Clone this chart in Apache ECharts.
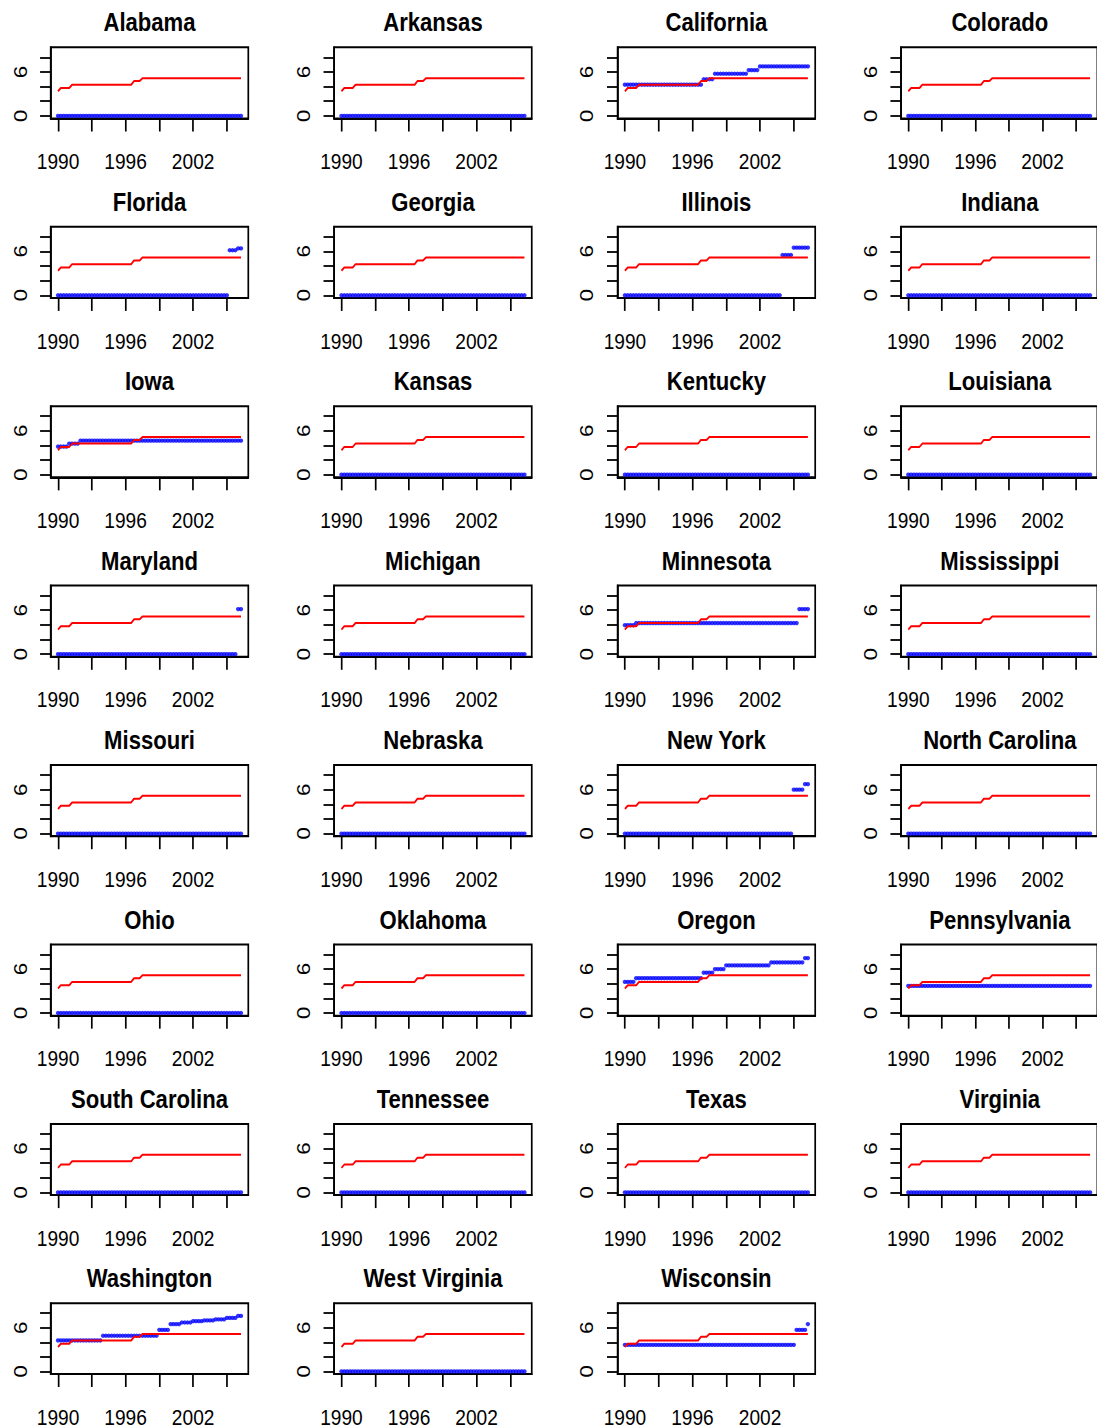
<!DOCTYPE html>
<html>
<head>
<meta charset="utf-8">
<script src="https://cdn.jsdelivr.net/npm/echarts@6/dist/echarts.min.js"></script>
<style>
  html, body { margin: 0; padding: 0; background: #ffffff; overflow: hidden; }
  /* The chart is laid out on a wider canvas and squeezed horizontally,
     which gives the narrow lettering of the panel titles and tick labels. */
  #chart { width: 1291px; height: 1428px; transform: scaleX(0.85); transform-origin: 0 0; }
</style>
</head>
<body>
<div id="chart"></div>
<script>
// Quarterly time index, 1990 Q1 through 2006 Q2
const quarters = [
  1990.00, 1990.25, 1990.50, 1990.75,
  1991.00, 1991.25, 1991.50, 1991.75,
  1992.00, 1992.25, 1992.50, 1992.75,
  1993.00, 1993.25, 1993.50, 1993.75,
  1994.00, 1994.25, 1994.50, 1994.75,
  1995.00, 1995.25, 1995.50, 1995.75,
  1996.00, 1996.25, 1996.50, 1996.75,
  1997.00, 1997.25, 1997.50, 1997.75,
  1998.00, 1998.25, 1998.50, 1998.75,
  1999.00, 1999.25, 1999.50, 1999.75,
  2000.00, 2000.25, 2000.50, 2000.75,
  2001.00, 2001.25, 2001.50, 2001.75,
  2002.00, 2002.25, 2002.50, 2002.75,
  2003.00, 2003.25, 2003.50, 2003.75,
  2004.00, 2004.25, 2004.50, 2004.75,
  2005.00, 2005.25, 2005.50, 2005.75,
  2006.00, 2006.25
];

// Federal minimum wage (red line), one value per quarter
const federalMinWage = [
  3.35, 3.80, 3.80, 3.80,
  3.80, 4.25, 4.25, 4.25,
  4.25, 4.25, 4.25, 4.25,
  4.25, 4.25, 4.25, 4.25,
  4.25, 4.25, 4.25, 4.25,
  4.25, 4.25, 4.25, 4.25,
  4.25, 4.25, 4.25, 4.75,
  4.75, 4.75, 5.15, 5.15,
  5.15, 5.15, 5.15, 5.15,
  5.15, 5.15, 5.15, 5.15,
  5.15, 5.15, 5.15, 5.15,
  5.15, 5.15, 5.15, 5.15,
  5.15, 5.15, 5.15, 5.15,
  5.15, 5.15, 5.15, 5.15,
  5.15, 5.15, 5.15, 5.15,
  5.15, 5.15, 5.15, 5.15,
  5.15, 5.15
];

// State minimum wage (blue points); 0 where the state sets none of its own
const noStateMinimum = [
  0, 0, 0, 0,  0, 0, 0, 0,  0, 0, 0, 0,  0, 0, 0, 0,
  0, 0, 0, 0,  0, 0, 0, 0,  0, 0, 0, 0,  0, 0, 0, 0,
  0, 0, 0, 0,  0, 0, 0, 0,  0, 0, 0, 0,  0, 0, 0, 0,
  0, 0, 0, 0,  0, 0, 0, 0,  0, 0, 0, 0,  0, 0, 0, 0,
  0, 0
];

const californiaWage = [
  4.25, 4.25, 4.25, 4.25,  4.25, 4.25, 4.25, 4.25,  4.25, 4.25, 4.25, 4.25,
  4.25, 4.25, 4.25, 4.25,  4.25, 4.25, 4.25, 4.25,  4.25, 4.25, 4.25, 4.25,
  4.25, 4.25, 4.25, 4.25,  5.00, 5.00, 5.00, 5.00,  5.75, 5.75, 5.75, 5.75,
  5.75, 5.75, 5.75, 5.75,  5.75, 5.75, 5.75, 5.75,  6.25, 6.25, 6.25, 6.25,
  6.75, 6.75, 6.75, 6.75,  6.75, 6.75, 6.75, 6.75,  6.75, 6.75, 6.75, 6.75,
  6.75, 6.75, 6.75, 6.75,  6.75, 6.75
];

const floridaWage = [
  0, 0, 0, 0,  0, 0, 0, 0,  0, 0, 0, 0,  0, 0, 0, 0,
  0, 0, 0, 0,  0, 0, 0, 0,  0, 0, 0, 0,  0, 0, 0, 0,
  0, 0, 0, 0,  0, 0, 0, 0,  0, 0, 0, 0,  0, 0, 0, 0,
  0, 0, 0, 0,  0, 0, 0, 0,  0, 0, 0, 0,
  0, 6.15, 6.15, 6.15,
  6.40, 6.40
];

const illinoisWage = [
  0, 0, 0, 0,  0, 0, 0, 0,  0, 0, 0, 0,  0, 0, 0, 0,
  0, 0, 0, 0,  0, 0, 0, 0,  0, 0, 0, 0,  0, 0, 0, 0,
  0, 0, 0, 0,  0, 0, 0, 0,  0, 0, 0, 0,  0, 0, 0, 0,
  0, 0, 0, 0,  0, 0, 0, 0,
  5.50, 5.50, 5.50, 5.50,
  6.50, 6.50, 6.50, 6.50,
  6.50, 6.50
];

const iowaWage = [
  3.85, 3.85, 3.85, 3.85,  4.25, 4.25, 4.25, 4.25,
  4.65, 4.65, 4.65, 4.65,  4.65, 4.65, 4.65, 4.65,  4.65, 4.65, 4.65, 4.65,
  4.65, 4.65, 4.65, 4.65,  4.65, 4.65, 4.65, 4.65,  4.65, 4.65, 4.65, 4.65,
  4.65, 4.65, 4.65, 4.65,  4.65, 4.65, 4.65, 4.65,  4.65, 4.65, 4.65, 4.65,
  4.65, 4.65, 4.65, 4.65,  4.65, 4.65, 4.65, 4.65,  4.65, 4.65, 4.65, 4.65,
  4.65, 4.65, 4.65, 4.65,  4.65, 4.65, 4.65, 4.65,  4.65, 4.65
];

const marylandWage = [
  0, 0, 0, 0,  0, 0, 0, 0,  0, 0, 0, 0,  0, 0, 0, 0,
  0, 0, 0, 0,  0, 0, 0, 0,  0, 0, 0, 0,  0, 0, 0, 0,
  0, 0, 0, 0,  0, 0, 0, 0,  0, 0, 0, 0,  0, 0, 0, 0,
  0, 0, 0, 0,  0, 0, 0, 0,  0, 0, 0, 0,  0, 0, 0, 0,
  6.15, 6.15
];

const minnesotaWage = [
  3.95, 3.95, 3.95, 3.95,
  4.25, 4.25, 4.25, 4.25,  4.25, 4.25, 4.25, 4.25,  4.25, 4.25, 4.25, 4.25,
  4.25, 4.25, 4.25, 4.25,  4.25, 4.25, 4.25, 4.25,  4.25, 4.25, 4.25, 4.25,
  4.25, 4.25, 4.25, 4.25,  4.25, 4.25, 4.25, 4.25,  4.25, 4.25, 4.25, 4.25,
  4.25, 4.25, 4.25, 4.25,  4.25, 4.25, 4.25, 4.25,  4.25, 4.25, 4.25, 4.25,
  4.25, 4.25, 4.25, 4.25,  4.25, 4.25, 4.25, 4.25,
  4.25, 4.25, 6.15, 6.15,
  6.15, 6.15
];

const newYorkWage = [
  0, 0, 0, 0,  0, 0, 0, 0,  0, 0, 0, 0,  0, 0, 0, 0,
  0, 0, 0, 0,  0, 0, 0, 0,  0, 0, 0, 0,  0, 0, 0, 0,
  0, 0, 0, 0,  0, 0, 0, 0,  0, 0, 0, 0,  0, 0, 0, 0,
  0, 0, 0, 0,  0, 0, 0, 0,  0, 0, 0, 0,
  6.00, 6.00, 6.00, 6.00,
  6.75, 6.75
];

const oregonWage = [
  4.25, 4.25, 4.25, 4.25,
  4.75, 4.75, 4.75, 4.75,  4.75, 4.75, 4.75, 4.75,  4.75, 4.75, 4.75, 4.75,
  4.75, 4.75, 4.75, 4.75,  4.75, 4.75, 4.75, 4.75,  4.75, 4.75, 4.75, 4.75,
  5.50, 5.50, 5.50, 5.50,
  6.00, 6.00, 6.00, 6.00,
  6.50, 6.50, 6.50, 6.50,  6.50, 6.50, 6.50, 6.50,  6.50, 6.50, 6.50, 6.50,  6.50, 6.50, 6.50, 6.50,
  6.90, 6.90, 6.90, 6.90,  6.90, 6.90, 6.90, 6.90,  6.90, 6.90, 6.90, 6.90,
  7.50, 7.50
];

const pennsylvaniaWage = [
  3.70, 3.70, 3.70, 3.70,  3.70, 3.70, 3.70, 3.70,  3.70, 3.70, 3.70, 3.70,
  3.70, 3.70, 3.70, 3.70,  3.70, 3.70, 3.70, 3.70,  3.70, 3.70, 3.70, 3.70,
  3.70, 3.70, 3.70, 3.70,  3.70, 3.70, 3.70, 3.70,  3.70, 3.70, 3.70, 3.70,
  3.70, 3.70, 3.70, 3.70,  3.70, 3.70, 3.70, 3.70,  3.70, 3.70, 3.70, 3.70,
  3.70, 3.70, 3.70, 3.70,  3.70, 3.70, 3.70, 3.70,  3.70, 3.70, 3.70, 3.70,
  3.70, 3.70, 3.70, 3.70,  3.70, 3.70
];

const washingtonWage = [
  4.25, 4.25, 4.25, 4.25,  4.25, 4.25, 4.25, 4.25,  4.25, 4.25, 4.25, 4.25,  4.25, 4.25, 4.25, 4.25,
  4.90, 4.90, 4.90, 4.90,  4.90, 4.90, 4.90, 4.90,  4.90, 4.90, 4.90, 4.90,
  4.90, 4.90, 4.90, 4.90,  4.90, 4.90, 4.90, 4.90,
  5.70, 5.70, 5.70, 5.70,
  6.50, 6.50, 6.50, 6.50,
  6.72, 6.72, 6.72, 6.72,
  6.90, 6.90, 6.90, 6.90,
  7.01, 7.01, 7.01, 7.01,
  7.16, 7.16, 7.16, 7.16,
  7.35, 7.35, 7.35, 7.35,
  7.63, 7.63
];

const wisconsinWage = [
  3.65, 3.65, 3.65, 3.65,  3.65, 3.65, 3.65, 3.65,  3.65, 3.65, 3.65, 3.65,
  3.65, 3.65, 3.65, 3.65,  3.65, 3.65, 3.65, 3.65,  3.65, 3.65, 3.65, 3.65,
  3.65, 3.65, 3.65, 3.65,  3.65, 3.65, 3.65, 3.65,  3.65, 3.65, 3.65, 3.65,
  3.65, 3.65, 3.65, 3.65,  3.65, 3.65, 3.65, 3.65,  3.65, 3.65, 3.65, 3.65,
  3.65, 3.65, 3.65, 3.65,  3.65, 3.65, 3.65, 3.65,  3.65, 3.65, 3.65, 3.65,
  3.65, 5.70, 5.70, 5.70,
  5.70, 6.50
];

const stateNames = [
  'Alabama', 'Arkansas', 'California', 'Colorado',
  'Florida', 'Georgia', 'Illinois', 'Indiana',
  'Iowa', 'Kansas', 'Kentucky', 'Louisiana',
  'Maryland', 'Michigan', 'Minnesota', 'Mississippi',
  'Missouri', 'Nebraska', 'New York', 'North Carolina',
  'Ohio', 'Oklahoma', 'Oregon', 'Pennsylvania',
  'South Carolina', 'Tennessee', 'Texas', 'Virginia',
  'Washington', 'West Virginia', 'Wisconsin'
];

const stateWageSeries = [
  noStateMinimum, noStateMinimum, californiaWage, noStateMinimum,
  floridaWage, noStateMinimum, illinoisWage, noStateMinimum,
  iowaWage, noStateMinimum, noStateMinimum, noStateMinimum,
  marylandWage, noStateMinimum, minnesotaWage, noStateMinimum,
  noStateMinimum, noStateMinimum, newYorkWage, noStateMinimum,
  noStateMinimum, noStateMinimum, oregonWage, pennsylvaniaWage,
  noStateMinimum, noStateMinimum, noStateMinimum, noStateMinimum,
  washingtonWage, noStateMinimum, wisconsinWage
];

// Axis ticks and labels
const xTickYears = [1990, 1993, 1996, 1999, 2002, 2005];
const xLabelYears = [1990, 1996, 2002];
const yTickValues = [0, 2, 4, 6, 8];
const yLabelValues = [0, 6];

// Panel layout, in the unsqueezed coordinates of #chart
const SQUEEZE = 0.85;
const COLS = 4;
const PANEL_DX = 283.45 / SQUEEZE;
const PANEL_DY = 179.43;
const BOX_LEFT = 50.7 / SQUEEZE;
const BOX_TOP = 47.3;
const BOX_W = 197.6 / SQUEEZE;
const BOX_H = 71.2;
const X_MIN = 1989.35, X_MAX = 2006.9;
const Y_MIN = -0.36, Y_MAX = 9.36;

const FONT = "'Liberation Sans', Arial, Helvetica, sans-serif";

const grids = [], xAxes = [], yAxes = [], titles = [], series = [];

stateNames.forEach((name, i) => {
  const col = i % COLS;
  const row = Math.floor(i / COLS);
  const left = BOX_LEFT + col * PANEL_DX;
  const top = BOX_TOP + row * PANEL_DY;

  grids.push({
    left: left, top: top, width: BOX_W, height: BOX_H,
    show: true, borderColor: '#000', borderWidth: 2,
    backgroundColor: 'transparent', containLabel: false
  });

  xAxes.push({
    type: 'value', gridIndex: i, min: X_MIN, max: X_MAX,
    axisLine: { show: true, onZero: false, lineStyle: { color: '#000', width: 2 } },
    axisTick: { show: true, customValues: xTickYears, length: 13, lineStyle: { color: '#000', width: 2 } },
    axisLabel: {
      show: true, customValues: xLabelYears, margin: 31,
      fontFamily: FONT, fontSize: 22.5, color: '#000',
      formatter: v => String(Math.round(v))
    },
    splitLine: { show: false }
  });

  yAxes.push({
    type: 'value', gridIndex: i, min: Y_MIN, max: Y_MAX,
    axisLine: { show: true, onZero: false, lineStyle: { color: '#000', width: 2 } },
    axisTick: { show: true, customValues: yTickValues, length: 12.5, lineStyle: { color: '#000', width: 1.8 } },
    axisLabel: {
      show: true, customValues: yLabelValues, rotate: 90, margin: 25,
      fontFamily: FONT, fontSize: 22.5, color: '#000',
      formatter: v => String(Math.round(v))
    },
    splitLine: { show: false }
  });

  titles.push({
    text: name,
    left: left + BOX_W / 2,
    top: top - 38,
    textAlign: 'center',
    padding: 0,
    textStyle: { fontFamily: FONT, fontWeight: 'bold', fontSize: 26, color: '#000' }
  });

  const stateWage = stateWageSeries[i];
  series.push({
    type: 'scatter', name: name + ' state', xAxisIndex: i, yAxisIndex: i,
    data: quarters.map((q, k) => [q, stateWage[k]]),
    symbol: 'circle', symbolSize: [5.2, 4.3],
    itemStyle: { color: '#0000ff' },
    silent: true, z: 2
  });
  series.push({
    type: 'line', name: name + ' federal', xAxisIndex: i, yAxisIndex: i,
    data: quarters.map((q, k) => [q, federalMinWage[k]]),
    showSymbol: false, symbol: 'none',
    lineStyle: { color: '#ff0000', width: 2 },
    silent: true, z: 3
  });
});

const chart = echarts.init(document.getElementById('chart'), null, { renderer: 'svg' });
chart.setOption({
  animation: false,
  backgroundColor: '#ffffff',
  title: titles,
  grid: grids,
  xAxis: xAxes,
  yAxis: yAxes,
  series: series
});
</script>
</body>
</html>
